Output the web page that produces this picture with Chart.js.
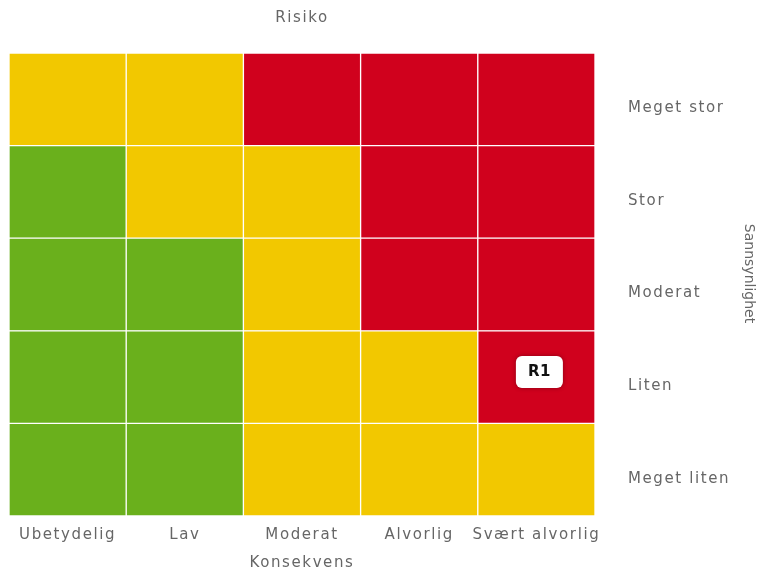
<!DOCTYPE html>
<html>
<head>
<meta charset="utf-8">
<script src="https://cdn.jsdelivr.net/npm/chart.js@4/dist/chart.umd.min.js"></script>
<style>
  html, body { margin: 0; padding: 0; background: #fff; }
  #wrap { width: 762px; height: 571px; }
</style>
</head>
<body>
<div id="wrap"><canvas id="risk"></canvas></div>
<script>
// Consequence categories (x axis, left to right)
const consequences = ['Ubetydelig', 'Lav', 'Moderat', 'Alvorlig', 'Svært alvorlig'];
// Probability categories (y axis, bottom to top)
const probabilities = ['Meget liten', 'Liten', 'Moderat', 'Stor', 'Meget stor'];
const yTitle = 'Sannsynlighet';

// Risk level per cell, one array per probability row (bottom to top)
// g = low, y = medium, r = high
const rowMegetLiten = ['g', 'g', 'y', 'y', 'y'];
const rowLiten      = ['g', 'g', 'y', 'y', 'r'];
const rowModerat    = ['g', 'g', 'y', 'r', 'r'];
const rowStor       = ['g', 'y', 'y', 'r', 'r'];
const rowMegetStor  = ['y', 'y', 'r', 'r', 'r'];
const riskRows = [rowMegetLiten, rowLiten, rowModerat, rowStor, rowMegetStor];

// Each cell takes one unit of height in the stack
const cellHeight = [1, 1, 1, 1, 1];

// Registered risks placed in the matrix
const riskMarkers = [
  { text: 'R1', consequence: 'Svært alvorlig', probability: 'Liten' }
];

const levelColors = { g: '#6AB01C', y: '#F2C800', r: '#D0011D' };
const textColor = '#666';
const fontFamily = '"DejaVu Sans", Verdana, sans-serif';
const labelFont = { family: fontFamily, size: 15 };

// canvas letterSpacing gets reset on resize, so set it again before layout and draw
const spacingPlugin = {
  id: 'spacing',
  beforeLayout(chart) { chart.ctx.letterSpacing = '1.6px'; },
  beforeDraw(chart) { chart.ctx.letterSpacing = '1.6px'; }
};

// vertical axis title, drawn without the extra letter spacing
const yTitlePlugin = {
  id: 'yTitle',
  afterDraw(chart) {
    const ctx = chart.ctx;
    const ys = chart.scales.y;
    const area = chart.chartArea;
    ctx.save();
    ctx.letterSpacing = '0px';
    ctx.fillStyle = textColor;
    ctx.font = '14px ' + fontFamily;
    ctx.textAlign = 'center';
    ctx.textBaseline = 'middle';
    ctx.translate(ys.right - 8, (area.top + area.bottom) / 2 - 11);
    ctx.rotate(Math.PI / 2);
    ctx.fillText(yTitle, 0, 0);
    ctx.restore();
  }
};

const markerPlugin = {
  id: 'markers',
  afterDatasetsDraw(chart) {
    const ctx = chart.ctx;
    const xs = chart.scales.x;
    const ys = chart.scales.y;
    riskMarkers.forEach(m => {
      const cx = xs.getPixelForValue(consequences.indexOf(m.consequence)) + 3;
      const cy = ys.getPixelForValue(probabilities.indexOf(m.probability) + 0.5) - 5;
      const w = 47, h = 32;
      ctx.save();
      ctx.shadowColor = 'rgba(0,0,0,0.35)';
      ctx.shadowBlur = 4;
      ctx.fillStyle = '#fff';
      ctx.beginPath();
      ctx.roundRect(cx - w / 2, cy - h / 2, w, h, 6);
      ctx.fill();
      ctx.restore();
      ctx.save();
      ctx.letterSpacing = '0.5px';
      ctx.fillStyle = '#111';
      ctx.font = 'bold 15px ' + fontFamily;
      ctx.textAlign = 'center';
      ctx.textBaseline = 'middle';
      ctx.fillText(m.text, cx, cy);
      ctx.restore();
    });
  }
};

const datasets = riskRows.map((row, i) => ({
  label: probabilities[i],
  data: cellHeight,
  backgroundColor: row.map(l => levelColors[l]),
  borderColor: '#fff',
  borderWidth: 1,
  borderSkipped: false,
  barPercentage: 1,
  categoryPercentage: 1
}));

new Chart(document.getElementById('risk'), {
  type: 'bar',
  data: { labels: consequences, datasets: datasets },
  plugins: [spacingPlugin, markerPlugin, yTitlePlugin],
  options: {
    responsive: true,
    maintainAspectRatio: false,
    animation: false,
    layout: { padding: { top: 9, left: 9, right: 5, bottom: -1 } },
    plugins: {
      legend: { display: false },
      tooltip: { enabled: false }
    },
    scales: {
      x: {
        stacked: true,
        grid: { display: false, drawTicks: false },
        border: { display: false },
        ticks: {
          color: textColor,
          padding: 10,
          autoSkip: false,
          maxRotation: 0,
          font: labelFont
        },
        title: {
          display: true,
          text: 'Konsekvens',
          color: textColor,
          padding: { top: 0, bottom: 0 },
          font: labelFont
        }
      },
      // top axis only carries the chart title so it is centred over the plot
      top: {
        type: 'category',
        position: 'top',
        labels: consequences,
        grid: { display: false, drawTicks: false },
        border: { display: false },
        ticks: { display: false },
        title: {
          display: true,
          text: 'Risiko',
          color: textColor,
          padding: { top: 0, bottom: 26 },
          font: labelFont
        }
      },
      y: {
        stacked: true,
        position: 'right',
        min: 0,
        max: 5,
        grid: { display: false, drawTicks: false },
        border: { display: false },
        afterBuildTicks(axis) {
          axis.ticks = probabilities.map((p, i) => ({ value: i + 0.5 }));
        },
        afterFit(axis) {
          axis.width = 162;
        },
        ticks: {
          color: textColor,
          padding: 33,
          labelOffset: 9,
          font: labelFont,
          callback: (v, i) => probabilities[i]
        }
      }
    }
  }
});
</script>
</body>
</html>
